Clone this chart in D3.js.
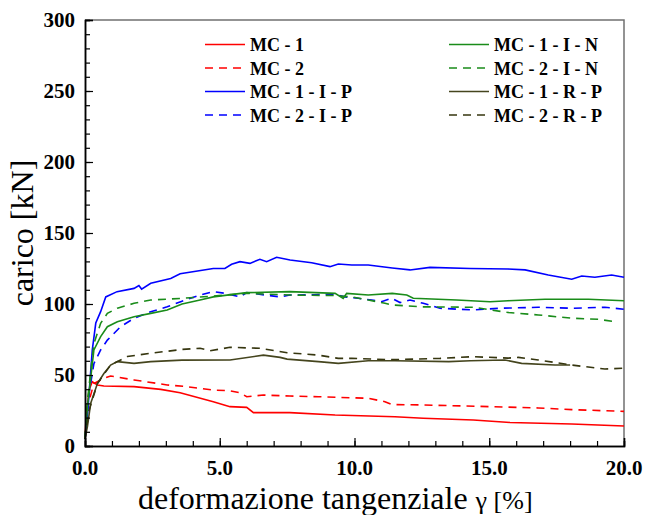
<!DOCTYPE html>
<html>
<head>
<meta charset="utf-8">
<script src="https://cdn.jsdelivr.net/npm/d3@7"></script>
<style>
  body { margin: 0; background: #fff; }
  svg { display: block; }
</style>
</head>
<body>
<div id="chart"></div>
<script>
var width = 645,
    height = 515;

// series data: [deformazione %, carico kN]
var mc1 = [[0,5],[0.03,16],[0.15,39.4],[0.27,45.3],[0.46,43],[0.7,42.3],[1.82,41.8],[2.81,39.9],[3.53,37.5],[4.76,31.2],[5.38,27.7],[6.0,27.2],[6.25,23.5],[7.6,23.5],[9.28,21.8],[11.5,20.6],[12.55,19.5],[14.41,18.3],[15.77,16.6],[18.06,15.5],[20,14.1]];
var mc2 = [[0,5],[0.09,27.7],[0.33,44],[0.7,47.7],[0.95,49.3],[1.82,46.5],[3.05,43],[3.67,42],[4.76,39.4],[5.38,38.9],[5.75,37.5],[6.0,34.7],[6.62,35.9],[7.6,35.2],[8.66,34.7],[10.51,33.6],[11.13,31.2],[11.38,29.2],[12.55,28.9],[15.03,27.7],[16.82,26.8],[18.06,25.6],[20,24.4]];
var mc1ip = [[0,5],[0.07,16],[0.27,67.6],[0.4,86.6],[0.58,94.6],[0.77,105],[1.19,108.7],[1.82,111],[2.0,113],[2.1,110.5],[2.44,114.6],[3.18,118],[3.53,121.3],[4.76,125],[5.19,125],[5.44,128],[5.75,129.8],[6.12,128.6],[6.49,131.5],[6.74,129.8],[7.11,132.9],[7.61,131],[8.41,129],[9.09,126.3],[9.4,128.2],[9.9,127.5],[10.51,127.5],[11.4,125.4],[12.06,124],[12.8,125.8],[14.29,125],[15.7,124.6],[16.33,124],[17.19,120.4],[18.06,117.4],[18.43,119.7],[18.92,118.8],[19.54,120.4],[20,118.8]];
var mc2ip = [[0,5],[0.15,37],[0.33,58],[0.58,67.6],[0.83,74.6],[1.32,84],[1.82,90],[2.44,94.6],[3.05,98],[3.6,102],[4.27,106.3],[4.76,108.7],[5.2,107.5],[5.75,105],[6.0,108],[7.24,105],[7.6,106.3],[8.5,106.5],[9.2,107],[9.65,105],[10.14,104],[10.64,102.8],[11.0,101.6],[11.38,104],[11.69,101],[12.06,102.8],[12.55,100.5],[13.17,97],[14.41,95.8],[15.4,97],[16.82,97.7],[18.06,97],[19.29,97.7],[20,96.3]];
var mc1in = [[0,5],[0.09,27.7],[0.33,67.6],[0.58,77],[0.83,84],[1.2,87.5],[1.82,91],[2.44,93.4],[3.05,95.8],[3.6,100],[4.27,102.8],[4.76,105],[6.0,108],[7.6,108.7],[9.28,107.5],[9.58,104],[9.71,107.5],[10.51,106.3],[11.4,107.5],[11.94,106.3],[12.18,104],[13.79,102.8],[15.03,101.6],[15.7,102.3],[17.07,103.3],[18.68,103.3],[20,102.3]];
var mc2in = [[0,5],[0.09,32],[0.33,72],[0.58,86.4],[0.83,93.4],[1.2,97],[1.82,100.5],[2.44,102.8],[3.6,104],[4.76,105.6],[6.0,107.5],[7.6,106.3],[9.2,106],[9.9,105],[10.51,102.8],[11.13,100.5],[11.4,99.3],[12.55,98],[14.41,97.7],[15.7,94],[16.82,92.3],[18.06,90],[19.05,89.2],[19.67,87.5]];
var mc1rp = [[0,5],[0.09,13.6],[0.21,30],[0.46,44],[0.7,51],[0.95,57],[1.2,59.4],[1.82,58.2],[2.44,59.4],[3.6,60.5],[5.38,60.6],[6.62,64],[7.24,62.4],[7.5,61.2],[8.66,59.4],[9.4,58.2],[10.51,60],[11.5,60],[13.5,59.4],[14.3,60],[15.58,60.6],[16.2,58.2],[17.44,57],[18,57]];
var mc2rp = [[0,5],[0.15,25],[0.46,44],[0.95,57],[1.57,63],[2.44,65.3],[3.6,68],[4.27,68.8],[4.64,67.1],[5.38,69.5],[6.49,68.8],[7.5,65.7],[8.66,64],[9.4,61.7],[9.9,61.7],[11.4,60.8],[13.17,61.7],[14.41,62.9],[15.7,61.9],[16.08,62.4],[16.82,60.6],[18.06,57],[19.29,54.2],[20,54.8]];

var seriesNames = ["MC - 1", "MC - 2", "MC - 1 - I - P", "MC - 2 - I - P",
                   "MC - 1 - I - N", "MC - 2 - I - N", "MC - 1 - R - P", "MC - 2 - R - P"];
var seriesData = [mc1, mc2, mc1ip, mc2ip, mc1in, mc2in, mc1rp, mc2rp];
var seriesColors = ["#ff0000", "#ff0000", "#0000ff", "#0000ff", "#1a8c1a", "#1a8c1a", "#45451e", "#36360f"];
var seriesDashed = [false, true, false, true, false, true, false, true];

var xTicks = [0, 5, 10, 15, 20];
var yTicks = [0, 50, 100, 150, 200, 250, 300];

var margin = {left: 85, right: 21, top: 20, bottom: 69};
var serif = "'Liberation Serif', 'Times New Roman', serif";

var svg = d3.select("#chart")
    .append("svg")
    .attr("width", width)
    .attr("height", height);

var x = d3.scaleLinear().domain([0, 20]).range([margin.left, width - margin.right]);
var y = d3.scaleLinear().domain([0, 300]).range([height - margin.bottom, margin.top]);

// frame top / right (grey)
svg.append("path")
    .attr("d", "M" + x(0) + "," + y(300) + "H" + x(20) + "V" + y(0))
    .attr("fill", "none")
    .attr("stroke", "#707070")
    .attr("stroke-width", 1.5);

// curves
var line = d3.line()
    .x(function(d){ return x(d[0]); })
    .y(function(d){ return y(d[1]); });

seriesData.forEach(function(data, i){
  svg.append("path")
      .datum(data)
      .attr("d", line)
      .attr("fill", "none")
      .attr("stroke", seriesColors[i])
      .attr("stroke-width", 1.6)
      .attr("stroke-dasharray", seriesDashed[i] ? "8,6" : null);
});

// axes, ticks pointing inward
var xAxis = svg.append("g").attr("transform", "translate(0," + y(0) + ")");
xAxis.call(d3.axisTop(x).ticks(20).tickSize(5).tickFormat(""));
xAxis.call(function(g){
  g.append("g").call(d3.axisTop(x).tickValues(xTicks).tickSize(8).tickFormat(""));
});
xAxis.selectAll("path").attr("stroke", "#000").attr("stroke-width", 1.5);
xAxis.selectAll("line").attr("stroke", "#000").attr("stroke-width", 1.2);

var yAxis = svg.append("g").attr("transform", "translate(" + x(0) + ",0)");
yAxis.call(d3.axisRight(y).ticks(30).tickSize(5).tickFormat(""));
yAxis.call(function(g){
  g.append("g").call(d3.axisRight(y).tickValues(yTicks).tickSize(8).tickFormat(""));
});
yAxis.selectAll("path").attr("stroke", "#000").attr("stroke-width", 1.5);
yAxis.selectAll("line").attr("stroke", "#000").attr("stroke-width", 1.2);

// tick labels
svg.selectAll(".xlab")
    .data(xTicks)
    .enter().append("text")
    .attr("class", "xlab")
    .attr("x", function(d){ return x(d); })
    .attr("y", y(0) + 29)
    .attr("text-anchor", "middle")
    .style("font-family", serif)
    .style("font-weight", "bold")
    .style("font-size", "21px")
    .text(function(d){ return d3.format(".1f")(d); });

svg.selectAll(".ylab")
    .data(yTicks)
    .enter().append("text")
    .attr("class", "ylab")
    .attr("x", x(0) - 10)
    .attr("y", function(d){ return y(d) + 7; })
    .attr("text-anchor", "end")
    .style("font-family", serif)
    .style("font-weight", "bold")
    .style("font-size", "21px")
    .text(function(d){ return d; });

// axis titles
var xTitle = svg.append("text")
    .attr("x", 138)
    .attr("y", 509)
    .style("font-family", serif)
    .style("font-size", "32px");
xTitle.append("tspan").text("deformazione tangenziale ");
xTitle.append("tspan").style("font-size", "26px").text("γ [%]");

svg.append("text")
    .attr("transform", "translate(33," + ((y(0) + y(300)) / 2) + ") rotate(-90)")
    .attr("text-anchor", "middle")
    .style("font-family", serif)
    .style("font-size", "32px")
    .text("carico [kN]");

// legend, two columns
var legend = svg.append("g");
seriesNames.forEach(function(name, i){
  var col = Math.floor(i / 4), row = i % 4;
  var lx = col === 0 ? 205 : 449;
  var ly = 44.5 + row * 23.5;
  legend.append("line")
      .attr("x1", lx).attr("x2", lx + 40)
      .attr("y1", ly).attr("y2", ly)
      .attr("stroke", seriesColors[i])
      .attr("stroke-width", 1.6)
      .attr("stroke-dasharray", seriesDashed[i] ? "8,6" : null);
  legend.append("text")
      .attr("x", lx + 45)
      .attr("y", ly + 6.5)
      .style("font-family", serif)
      .style("font-weight", "bold")
      .style("font-size", "18px")
      .text(name);
});
</script>
</body>
</html>
